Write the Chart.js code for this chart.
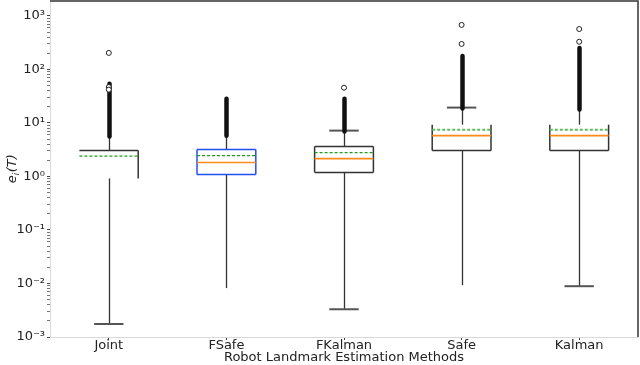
<!DOCTYPE html>
<html>
<head>
<meta charset="utf-8">
<script src="https://cdn.jsdelivr.net/npm/chart.js@4.4.0/dist/chart.umd.min.js"></script>
<style>
  html, body { margin: 0; padding: 0; background: #fff; }
</style>
</head>
<body>
<canvas id="boxChart" width="640" height="365"></canvas>
<script>
// Values
var methods = ['Joint', 'FSafe', 'FKalman', 'Safe', 'Kalman'];
var q1Values = [0.92, 1.09, 1.19, 3.05, 3.05];
var medianValues = [null, 1.82, 2.16, 5.8, 5.8];
var q3Values = [3.05, 3.18, 3.62, 9.3, 9.3];
var meanValues = [2.4, 2.46, 2.8, 7.5, 7.5];
var whiskerLow = [0.00175, 0.0082, 0.0033, 0.0093, 0.0089];
var whiskerHigh = [5.6, 5.8, 7.2, 19.4, 17.8];
var flierBandLow = [5.6, 5.8, 6.9, 18.6, 17.8];
var flierBandHigh = [54, 28.5, 28.5, 178, 253];
var outliers = [[204, 47, 42], [], [45.6], [300, 680], [330, 570]];

// y tick labels (decades)
var decadeLabels = { '-3': '10⁻³', '-2': '10⁻²', '-1': '10⁻¹', '0': '10⁰', '1': '10¹', '2': '10²', '3': '10³' };

// how each box is drawn (styles only)
var boxWidth = 0.5;
var capWidth = 0.25;
var boxStyles = [
    { edge: '#333', edges: { top: true, right: true, bottom: false, left: false }, capHigh: false, capLow: true, meanColor: '#1f9e1f', meanDash: [3, 2], meanWidth: 1.2 },
    { edge: '#2050f0', edges: { top: true, right: true, bottom: true, left: true }, capHigh: false, capLow: false, meanColor: '#1f9e1f', meanDash: [3, 2], meanWidth: 1.2 },
    { edge: '#333', edges: { top: true, right: true, bottom: true, left: true }, capHigh: true, capLow: true, meanColor: '#1f9e1f', meanDash: [3, 2], meanWidth: 1.2 },
    { edge: '#333', edges: { top: false, right: true, bottom: true, left: true }, capHigh: true, capLow: false, meanColor: '#5cbf5c', meanDash: [3, 2], meanWidth: 2 },
    { edge: '#333', edges: { top: false, right: true, bottom: true, left: true }, capHigh: false, capLow: true, meanColor: '#5cbf5c', meanDash: [3, 2], meanWidth: 2 }
];

var outlierPoints = [];
for (var i = 0; i < outliers.length; i++) {
    for (var j = 0; j < outliers[i].length; j++) {
        outlierPoints.push({ x: i + 1, y: outliers[i][j] });
    }
}

function line(ctx, x1, y1, x2, y2) {
    ctx.beginPath();
    ctx.moveTo(x1, y1);
    ctx.lineTo(x2, y2);
    ctx.stroke();
}

// draws whiskers, boxes, medians, means and the dense flier columns
var boxPlugin = {
    id: 'boxPlugin',
    beforeDatasetsDraw: function(chart) {
        var ctx = chart.ctx;
        var xs = chart.scales.x;
        var ys = chart.scales.y;
        ctx.save();
        for (var i = 0; i < methods.length; i++) {
            var st = boxStyles[i];
            var cx = Math.round(xs.getPixelForValue(i + 1)) + 0.5;
            var left = xs.getPixelForValue(i + 1 - boxWidth / 2);
            var right = xs.getPixelForValue(i + 1 + boxWidth / 2);
            var capL = xs.getPixelForValue(i + 1 - capWidth / 2);
            var capR = xs.getPixelForValue(i + 1 + capWidth / 2);
            var yq1 = ys.getPixelForValue(q1Values[i]);
            var yq3 = ys.getPixelForValue(q3Values[i]);
            var ylo = ys.getPixelForValue(whiskerLow[i]);
            var yhi = ys.getPixelForValue(whiskerHigh[i]);

            // whiskers
            ctx.setLineDash([]);
            ctx.strokeStyle = '#333';
            ctx.lineWidth = 1.3;
            line(ctx, cx, yq1, cx, ylo);
            line(ctx, cx, yq3, cx, yhi);
            ctx.lineWidth = 2;
            ctx.strokeStyle = '#555';
            if (st.capLow) line(ctx, capL, ylo, capR, ylo);
            if (st.capHigh) line(ctx, capL, yhi, capR, yhi);

            // box
            ctx.strokeStyle = st.edge;
            ctx.lineWidth = 1.5;
            if (st.edges.top) line(ctx, left, yq3, right, yq3);
            if (st.edges.bottom) line(ctx, left, yq1, right, yq1);
            if (st.edges.left) line(ctx, left, yq3, left, yq1);
            if (st.edges.right) line(ctx, right, yq3, right, yq1);

            // median
            if (medianValues[i] !== null) {
                ctx.strokeStyle = '#ff8c1a';
                ctx.lineWidth = 1.6;
                var ym = ys.getPixelForValue(medianValues[i]);
                line(ctx, left, ym, right, ym);
            }

            // mean
            ctx.strokeStyle = st.meanColor;
            ctx.lineWidth = st.meanWidth;
            ctx.setLineDash(st.meanDash);
            var ymean = ys.getPixelForValue(meanValues[i]);
            line(ctx, left, ymean, right, ymean);
            ctx.setLineDash([]);

            // dense flier column
            ctx.strokeStyle = '#111';
            ctx.lineWidth = 4.5;
            ctx.lineCap = 'round';
            line(ctx, cx, ys.getPixelForValue(flierBandLow[i]), cx, ys.getPixelForValue(flierBandHigh[i]));
            ctx.lineCap = 'butt';
        }
        ctx.restore();
    },
    afterDraw: function(chart) {
        var a = chart.chartArea;
        var ctx = chart.ctx;
        ctx.save();
        // dark top and right frame
        ctx.strokeStyle = '#333';
        ctx.lineWidth = 1.5;
        ctx.beginPath();
        ctx.moveTo(a.left, a.top);
        ctx.lineTo(a.right, a.top);
        ctx.lineTo(a.right, a.bottom);
        ctx.stroke();

        // y axis title e_i(T), with a real subscript
        ctx.translate(12, (a.top + a.bottom) / 2);
        ctx.rotate(-Math.PI / 2);
        ctx.fillStyle = '#222';
        ctx.textBaseline = 'alphabetic';
        var big = 'italic 13px "DejaVu Sans"';
        var small = 'italic 9px "DejaVu Sans"';
        ctx.font = big;
        var w1 = ctx.measureText('e').width;
        var w3 = ctx.measureText('(T)').width;
        ctx.font = small;
        var w2 = ctx.measureText('i').width;
        var x0 = -(w1 + w2 + w3) / 2;
        ctx.font = big;
        ctx.fillText('e', x0, 4);
        ctx.font = small;
        ctx.fillText('i', x0 + w1, 7);
        ctx.font = big;
        ctx.fillText('(T)', x0 + w1 + w2 + 0.5, 4);
        ctx.restore();
    }
};

var ctx = document.getElementById('boxChart').getContext('2d');
var boxChart = new Chart(ctx, {
    type: 'scatter',
    data: {
        datasets: [{
            label: 'outliers',
            data: outlierPoints,
            pointStyle: 'circle',
            pointRadius: 2.5,
            borderWidth: 1,
            borderColor: '#222',
            backgroundColor: '#fff'
        }]
    },
    plugins: [boxPlugin],
    options: {
        responsive: false,
        animation: false,
        layout: { autoPadding: false, padding: { top: 1, right: 2, left: 0, bottom: 0 } },
        plugins: {
            legend: { display: false },
            tooltip: { enabled: false }
        },
        scales: {
            x: {
                type: 'linear',
                min: 0.5,
                max: 5.5,
                afterBuildTicks: function(scale) {
                    scale.ticks = methods.map(function(m, i) { return { value: i + 1 }; });
                },
                afterFit: function(scale) {
                    scale.height = 28;
                    scale.paddingLeft = 0;
                    scale.paddingRight = 0;
                },
                border: { color: '#d9d9d9' },
                grid: { drawOnChartArea: false, tickLength: 3, tickColor: '#444' },
                ticks: {
                    autoSkip: false,
                    maxRotation: 0,
                    padding: -2,
                    color: '#222',
                    font: { family: 'DejaVu Sans', size: 13 },
                    callback: function(v) { return methods[v - 1]; }
                },
                title: {
                    display: true,
                    text: 'Robot Landmark Estimation Methods',
                    color: '#222',
                    font: { family: 'DejaVu Sans', size: 13 },
                    padding: { top: -3, bottom: 0 }
                }
            },
            y: {
                type: 'logarithmic',
                min: 0.001,
                max: 1905,
                afterBuildTicks: function(scale) {
                    var t = [];
                    for (var e = -3; e <= 3; e++) {
                        for (var m = 1; m <= 9; m++) {
                            var v = Number((m * Math.pow(10, e)).toPrecision(3));
                            if (v <= 1905) t.push({ value: v, major: m === 1 });
                        }
                    }
                    scale.ticks = t;
                },
                afterFit: function(scale) {
                    scale.width = 50;
                    scale.paddingTop = 0;
                    scale.paddingBottom = 0;
                },
                border: { color: '#d9d9d9' },
                grid: {
                    drawOnChartArea: false,
                    tickLength: 3,
                    tickColor: function(c) { return c.tick && c.tick.major ? '#444' : '#777'; }
                },
                ticks: {
                    autoSkip: false,
                    padding: 2,
                    color: '#222',
                    font: { family: 'DejaVu Sans', size: 13 },
                    callback: function(v) {
                        var lg = Math.log10(v);
                        if (Math.abs(lg - Math.round(lg)) < 1e-6) return decadeLabels[String(Math.round(lg))];
                        return '';
                    }
                },
                title: { display: false }
            }
        }
    }
});
</script>
</body>
</html>
